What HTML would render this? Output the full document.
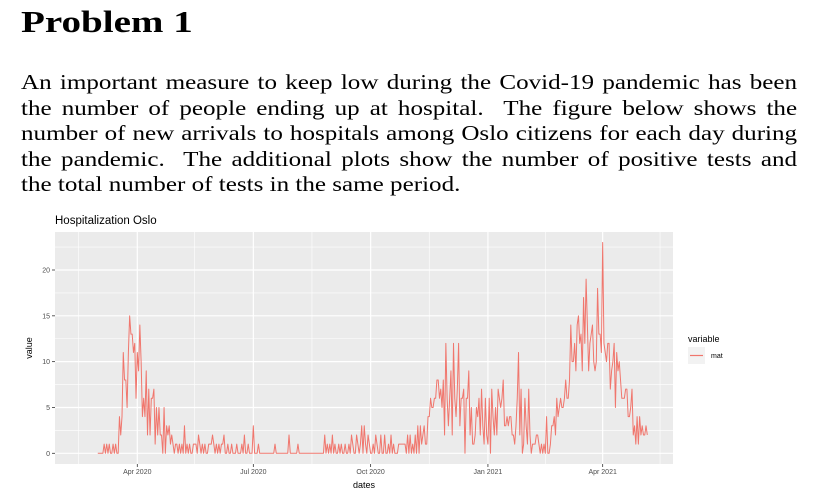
<!DOCTYPE html>
<html><head><meta charset="utf-8"><style>
body{margin:0;width:822px;height:504px;background:#fff;overflow:hidden;position:relative;font-family:"Liberation Serif",serif;}
h1{position:absolute;left:21px;top:4px;margin:0;font-size:31px;font-weight:bold;transform:scaleX(1.26);transform-origin:0 0;}
.ln{position:absolute;left:21px;width:650px;font-size:21px;text-align:justify;text-align-last:justify;white-space:nowrap;line-height:25px;transform:scaleX(1.194);transform-origin:0 0;}
.ln.last{text-align-last:left;}
svg{position:absolute;left:0;top:0;}
svg text{font-family:"Liberation Sans",sans-serif;}
</style></head><body>
<h1>Problem 1</h1>
<div>
<div class="ln" style="top:70px">An important measure to keep low during the Covid-19 pandemic has been</div>
<div class="ln" style="top:95.5px">the number of people ending up at hospital.&nbsp; The figure below shows the</div>
<div class="ln" style="top:121px">number of new arrivals to hospitals among Oslo citizens for each day during</div>
<div class="ln" style="top:146.5px">the pandemic.&nbsp; The additional plots show the number of positive tests and</div>
<div class="ln last" style="top:172px">the total number of tests in the same period.</div>
</div>
<svg id="chart" width="822" height="504"></svg>
<script>
const startDate = "2020-03-01";
const values = [
0,0,0,0,0,1,0,1,0,1,0,0,1,0,1,0,0,4,2,4,11,8,8,5,11,15,13,13,11,12,6,
11,9,14,10,4,6,4,9,2,7,2,6,6,7,1,5,2,5,2,2,0,5,0,3,2,3,1,2,1,0,
1,1,0,1,0,1,0,3,0,1,0,1,0,0,1,1,1,0,2,1,0,1,0,1,0,0,1,1,1,2,1,
0,1,0,1,0,1,1,2,0,0,1,0,0,1,0,0,0,1,0,0,0,1,0,2,0,0,1,0,0,0,
3,0,0,0,1,0,0,0,0,0,0,0,0,0,0,0,0,1,0,0,0,0,0,0,0,0,0,0,2,0,0,
0,0,0,0,1,0,0,0,0,0,0,0,0,0,0,0,0,0,0,0,0,0,0,0,0,2,0,1,0,1,0,
2,0,1,0,0,1,0,1,0,0,1,0,0,1,0,2,1,0,0,2,1,0,1,3,0,3,1,0,2,1,
0,0,1,0,2,1,0,0,2,0,0,2,0,0,1,0,2,0,1,0,0,0,1,1,1,1,1,1,0,2,0,
2,0,1,0,2,0,3,0,3,1,2,3,1,1,4,4,6,5,5,6,6,8,8,6,7,5,8,2,12,6,
3,6,9,2,12,6,4,7,12,3,6,6,7,0,6,6,9,2,5,1,1,2,5,4,6,2,7,3,1,6,2,
1,6,0,7,4,2,5,2,7,6,5,6,8,3,3,4,3,4,4,2,2,1,3,6,11,2,7,0,1,6,3,
1,7,2,0,1,1,1,2,2,1,0,1,0,1,0,4,0,0,1,3,3,4,2,6,4,5,6,5,
5,6,8,6,6,8,14,10,10,12,9,14,15,12,13,9,17,12,19,14,9,12,13,14,10,9,10,18,13,13,11,
23,12,11,10,12,12,7,9,10,12,5,11,9,10,8,6,6,6,7,7,4,4,5,7,2,3,1,4,1,4,
2,3,2,2,3,2
];
const yTicks = [0,5,10,15,20];
const xTickDates = ["2020-04-01","2020-07-01","2020-10-01","2021-01-01","2021-04-01"];
const xTickLabels = ["Apr 2020","Jul 2020","Oct 2020","Jan 2021","Apr 2021"];
const xMinorDates = ["2020-02-15","2020-05-16","2020-08-16","2020-11-16","2021-02-15","2021-05-16"];

const NS="http://www.w3.org/2000/svg";
const svg=document.getElementById('chart');
const P={l:55,t:232,r:673,b:464};
const DAY=86400000;
const d0=Date.parse("2020-04-01");
const xs=d=>137.3+(Date.parse(d)-d0)/DAY*1.275;
const xi=i=>xs(startDate)+i*1.275;
const ys=v=>453.3-v*9.165;
function mk(tag,attrs,parent){const e=document.createElementNS(NS,tag);for(const k in attrs)e.setAttribute(k,attrs[k]);(parent||svg).appendChild(e);return e;}

const bg=mk('rect',{x:P.l,y:P.t,width:P.r-P.l,height:P.b-P.t,fill:'#ebebeb'});


[2.5,7.5,12.5,17.5,22.5].forEach(v=>{const g=mk('line',{x1:P.l,x2:P.r,y1:ys(v),y2:ys(v),stroke:'#fff','stroke-width':0.6});

});
xMinorDates.forEach(d=>{const g=mk('line',{x1:xs(d),x2:xs(d),y1:P.t,y2:P.b,stroke:'#fff','stroke-width':0.6});

});
yTicks.forEach(v=>{const y=ys(v);
const g=mk('line',{x1:P.l,x2:P.r,y1:y,y2:y,stroke:'#fff','stroke-width':1.2});


mk('line',{x1:P.l-3,x2:P.l,y1:y,y2:y,stroke:'#333','stroke-width':0.8});
const t=mk('text',{x:P.l-5,y:y+2.5,'font-size':7,fill:'#4d4d4d','text-anchor':'end'});t.textContent=v;

});
xTickDates.forEach((d,i)=>{const x=xs(d);
const g=mk('line',{x1:x,x2:x,y1:P.t,y2:P.b,stroke:'#fff','stroke-width':1.2});


mk('line',{x1:x,x2:x,y1:P.b,y2:P.b+3,stroke:'#333','stroke-width':0.8});
const t=mk('text',{x:x,y:P.b+10,'font-size':7,fill:'#4d4d4d','text-anchor':'middle'});t.textContent=xTickLabels[i];

});
const pts=values.map((v,i)=>xi(i).toFixed(2)+','+ys(v).toFixed(2)).join(' ');
const line=mk('polyline',{points:pts,fill:'none',stroke:'#f0766d','stroke-width':1,'stroke-linejoin':'round'});


const title=mk('text',{x:55,y:224,'font-size':11.5,fill:'#000'});title.textContent='Hospitalization Oslo';


const xt=mk('text',{x:(P.l+P.r)/2,y:488,'font-size':9,fill:'#000','text-anchor':'middle'});xt.textContent='dates';


const yt=mk('text',{x:0,y:0,'font-size':9,fill:'#000','text-anchor':'middle',transform:'translate(32,348) rotate(-90)'});yt.textContent='value';


const lt=mk('text',{x:688,y:342,'font-size':9,fill:'#000'});lt.textContent='variable';


const lk=mk('rect',{x:688,y:347,width:17,height:17,fill:'#f2f2f2'});


mk('line',{x1:690,x2:703,y1:355.5,y2:355.5,stroke:'#f0766d','stroke-width':1.2});
const ll=mk('text',{x:711,y:358,'font-size':7,fill:'#000'});ll.textContent='mat';


</script>
</body></html>
